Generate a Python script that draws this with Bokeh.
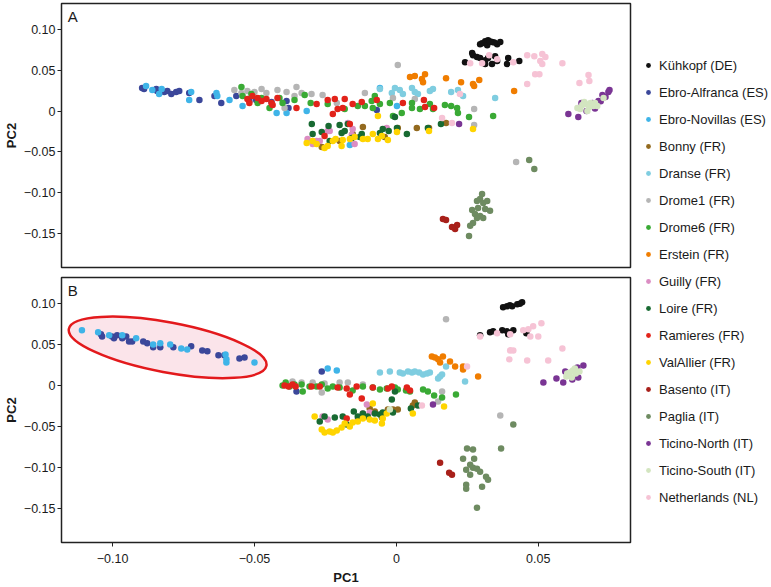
from bokeh.plotting import figure
from bokeh.models import (Range1d, FixedTicker, CustomJSTickFormatter, Legend,
                          LegendItem, Label)
from bokeh.layouts import row, column
from bokeh.embed import file_html
from bokeh.resources import INLINE

FONT = "Liberation Sans"

# ---------------- data ----------------
populations = ["Kühkopf (DE)", "Ebro-Alfranca (ES)", "Ebro-Novillas (ES)", "Bonny (FR)",
               "Dranse (FR)", "Drome1 (FR)", "Drome6 (FR)", "Erstein (FR)", "Guilly (FR)",
               "Loire (FR)", "Ramieres (FR)", "ValAllier (FR)", "Basento (IT)", "Paglia (IT)",
               "Ticino-North (IT)", "Ticino-South (IT)", "Netherlands (NL)"]
colors = ["#111111", "#3B479A", "#3FB4E8", "#936A1F", "#7FCDE0", "#B5B5B5", "#3AAA35",
          "#F07D00", "#DB8DC3", "#186A32", "#E2231A", "#FFD400", "#A8201A", "#6E8B61",
          "#7A3594", "#D3E5C0", "#F6C3D5"]

x_ticks = [-0.10, -0.05, 0.0, 0.05]
y_ticks = [-0.15, -0.10, -0.05, 0.0, 0.05, 0.10]
x_limits = (-0.118, 0.0825)
y_limits = (-0.192, 0.132)

# Panel A (PC1, PC2)
kuhkopf_a = [(0.0302, 0.0833), (0.0313, 0.0858), (0.0323, 0.0870), (0.0337, 0.0846), (0.0355, 0.0821),
             (0.0366, 0.0846), (0.0320, 0.0809), (0.0345, 0.0840), (0.0295, 0.0820), (0.0330, 0.0855),
             (0.0267, 0.0711), (0.0270, 0.0686), (0.0284, 0.0662), (0.0295, 0.0650), (0.0313, 0.0625),
             (0.0323, 0.0650), (0.0337, 0.0576), (0.0348, 0.0674), (0.0355, 0.0613), (0.0390, 0.0576),
             (0.0394, 0.0650), (0.0433, 0.0613), (0.0242, 0.0600), (0.0313, 0.0576)]
ebro_alfranca_a = [(-0.0896, 0.0282), (-0.0889, 0.0270), (-0.0846, 0.0270), (-0.0843, 0.0245),
                   (-0.0818, 0.0233), (-0.0807, 0.0245), (-0.0793, 0.0208), (-0.0776, 0.0233),
                   (-0.0765, 0.0245), (-0.0730, 0.0221), (-0.0694, 0.0135), (-0.0641, 0.0184),
                   (-0.0617, 0.0098), (-0.0564, 0.0184), (-0.0518, 0.0123), (-0.0494, 0.0135),
                   (-0.0440, 0.0110), (-0.0387, 0.0123), (-0.0380, 0.0037), (-0.0069, 0.0012)]
ebro_novillas_a = [(-0.0882, 0.0306), (-0.0860, 0.0257), (-0.0836, 0.0208), (-0.0827, 0.0270),
                   (-0.0730, 0.0135), (-0.0723, 0.0233), (-0.0634, 0.0221), (-0.0631, 0.0184),
                   (-0.0588, 0.0135), (-0.0542, 0.0061), (-0.0422, -0.0025), (-0.0387, -0.0025),
                   (-0.0316, 0.0000), (-0.0164, -0.0417), (-0.0058, 0.0282), (0.0002, 0.0061)]
bonny_a = [(-0.0263, -0.0441), (-0.0200, -0.0368), (-0.0154, -0.0282), (-0.0118, -0.0196),
           (-0.0041, -0.0319), (0.0005, -0.0208), (0.0072, -0.0208), (0.0115, -0.0208),
           (0.0175, -0.0147)]
dranse_a = [(-0.0058, 0.0270), (-0.0016, 0.0221), (-0.0005, 0.0282), (0.0012, 0.0257),
            (0.0023, 0.0208), (0.0055, 0.0282), (0.0065, 0.0233), (0.0076, 0.0208),
            (0.0118, 0.0245), (0.0129, 0.0270), (0.0193, 0.0233), (0.0217, 0.0257),
            (0.0235, 0.0184), (0.0348, 0.0159)]
drome1_a = [(-0.0571, 0.0257), (-0.0546, 0.0221), (-0.0525, 0.0245), (-0.0500, 0.0233),
            (-0.0475, 0.0270), (-0.0458, 0.0221), (-0.0419, 0.0257), (-0.0387, 0.0233),
            (-0.0359, 0.0184), (-0.0352, 0.0294), (-0.0334, 0.0221), (-0.0299, 0.0208),
            (-0.0260, 0.0196), (-0.0210, 0.0098), (-0.0394, 0.0037), (-0.0111, 0.0221),
            (0.0005, 0.0564), (-0.0012, 0.0159), (0.0065, 0.0147), (0.0274, 0.0025),
            (0.0274, -0.0172), (0.0422, -0.0625)]
drome6_a = [(-0.0546, 0.0294), (-0.0542, 0.0184), (-0.0511, 0.0208), (-0.0489, 0.0098),
            (-0.0475, 0.0159), (-0.0447, 0.0037), (-0.0412, 0.0159), (-0.0401, 0.0098),
            (-0.0359, 0.0135), (-0.0323, 0.0196), (-0.0302, 0.0098), (-0.0242, 0.0086),
            (-0.0182, 0.0025), (-0.0136, 0.0061), (-0.0111, 0.0061), (-0.0087, 0.0123),
            (-0.0083, 0.0037), (-0.0058, 0.0086), (-0.0076, 0.0184), (-0.0023, 0.0098),
            (-0.0012, -0.0061), (0.0019, -0.0025), (0.0055, 0.0098), (0.0055, 0.0037),
            (0.0083, 0.0025), (0.0118, 0.0086), (0.0129, 0.0025), (0.0171, 0.0074),
            (0.0193, 0.0061), (0.0214, 0.0037), (0.0217, -0.0025), (0.0256, -0.0074),
            (0.0341, -0.0061)]
erstein_a = [(0.0048, 0.0417), (0.0065, 0.0429), (0.0090, 0.0392), (0.0094, 0.0355),
             (0.0101, 0.0453), (0.0175, 0.0404), (0.0228, 0.0355), (0.0270, 0.0331),
             (0.0274, 0.0306), (0.0292, 0.0380), (0.0415, 0.0245)]
guilly_a = [(-0.0313, -0.0343), (-0.0295, -0.0404), (-0.0281, -0.0368), (-0.0270, -0.0368),
            (-0.0242, -0.0245), (-0.0235, -0.0245), (-0.0171, -0.0147), (-0.0154, -0.0221),
            (-0.0157, -0.0294), (-0.0147, -0.0404), (-0.0034, -0.0208)]
loire_a = [(-0.0298, -0.0159), (-0.0295, -0.0282), (-0.0263, -0.0257), (-0.0239, -0.0184),
           (-0.0235, -0.0368), (-0.0200, -0.0172), (-0.0193, -0.0270), (-0.0182, -0.0245),
           (-0.0171, -0.0159), (-0.0157, -0.0331), (-0.0129, -0.0319), (-0.0122, -0.0282),
           (-0.0058, -0.0270), (-0.0048, -0.0221), (-0.0027, -0.0245), (-0.0005, -0.0074),
           (0.0002, -0.0208), (0.0037, -0.0282), (0.0111, -0.0208), (0.0157, -0.0159)]
ramieres_a = [(-0.0525, 0.0147), (-0.0518, 0.0098), (-0.0507, 0.0184), (-0.0489, 0.0159),
              (-0.0475, 0.0123), (-0.0458, 0.0147), (-0.0440, 0.0098), (-0.0436, 0.0074),
              (-0.0419, 0.0159), (-0.0352, 0.0037), (-0.0281, 0.0086), (-0.0242, 0.0135),
              (-0.0224, -0.0037), (-0.0217, 0.0147), (-0.0207, 0.0025), (-0.0189, 0.0037),
              (-0.0182, 0.0147), (-0.0154, 0.0086), (-0.0122, 0.0110), (-0.0069, 0.0135),
              (-0.0164, -0.0159), (-0.0253, -0.0306), (0.0023, 0.0098), (0.0097, 0.0135),
              (0.0101, 0.0049), (0.0133, 0.0037)]
valallier_a = [(-0.0316, -0.0392), (-0.0295, -0.0368), (-0.0281, -0.0404), (-0.0253, -0.0453),
               (-0.0242, -0.0429), (-0.0224, -0.0368), (-0.0214, -0.0343), (-0.0193, -0.0429),
               (-0.0189, -0.0355), (-0.0164, -0.0343), (-0.0147, -0.0319), (-0.0118, -0.0343),
               (-0.0101, -0.0343), (-0.0083, -0.0282), (-0.0065, -0.0343), (-0.0051, -0.0306),
               (-0.0030, -0.0355), (0.0002, -0.0257), (-0.0065, -0.0061), (0.0115, -0.0245),
               (0.0270, -0.0221)]
basento_a = [(0.0164, -0.1324), (0.0175, -0.1336), (0.0207, -0.1446), (0.0214, -0.1397),
             (0.0196, -0.1422)]
paglia_a = [(0.0302, -0.1017), (0.0295, -0.1078), (0.0284, -0.1103), (0.0306, -0.1127),
            (0.0320, -0.1103), (0.0288, -0.1189), (0.0313, -0.1201), (0.0330, -0.1225),
            (0.0267, -0.1213), (0.0277, -0.1262), (0.0295, -0.1287), (0.0284, -0.1311),
            (0.0306, -0.1311), (0.0270, -0.1373), (0.0260, -0.1409), (0.0256, -0.1532),
            (0.0468, -0.0600), (0.0486, -0.0711)]
ticino_north_a = [(0.0606, -0.0037), (0.0641, -0.0074), (0.0652, 0.0098), (0.0712, 0.0123),
                  (0.0726, 0.0196), (0.0737, 0.0172), (0.0747, 0.0233), (0.0751, 0.0257),
                  (0.0691, 0.0098), (0.0221, -0.0159), (0.0670, 0.0000), (0.0700, 0.0030),
                  (0.0720, 0.0120)]
ticino_south_a = [(0.0638, 0.0037), (0.0655, 0.0074), (0.0666, 0.0086), (0.0684, 0.0098),
                  (0.0694, 0.0061), (0.0673, 0.0000), (0.0708, 0.0061), (0.0730, 0.0159),
                  (0.0648, 0.0025), (0.0680, 0.0049), (0.0662, 0.0110), (0.0700, 0.0100)]
netherlands_a = [(0.0260, 0.0588), (0.0302, 0.0588), (0.0327, 0.0686), (0.0355, 0.0637),
                 (0.0412, 0.0600), (0.0461, 0.0686), (0.0486, 0.0674), (0.0514, 0.0699),
                 (0.0525, 0.0662), (0.0507, 0.0613), (0.0514, 0.0576), (0.0585, 0.0588),
                 (0.0489, 0.0453), (0.0504, 0.0453), (0.0461, 0.0331), (0.0645, 0.0343),
                 (0.0677, 0.0441), (0.0680, 0.0368), (0.0224, 0.0208), (0.0161, -0.0086),
                 (0.0196, -0.0147)]

# Panel B (PC1, PC2)
kuhkopf_b = [(0.0390, 0.0968), (0.0408, 0.0968), (0.0426, 0.0993), (0.0443, 0.1017),
             (0.0376, 0.0956), (0.0400, 0.0980), (0.0435, 0.1000), (0.0295, 0.0613),
             (0.0330, 0.0650), (0.0341, 0.0662), (0.0373, 0.0674), (0.0390, 0.0662),
             (0.0394, 0.0625), (0.0412, 0.0674), (0.0458, 0.0637)]
ebro_alfranca_b = [(-0.1041, 0.0625), (-0.1037, 0.0600), (-0.1002, 0.0600), (-0.0995, 0.0576),
                   (-0.0984, 0.0613), (-0.0966, 0.0576), (-0.0952, 0.0600), (-0.0942, 0.0539),
                   (-0.0931, 0.0539), (-0.0892, 0.0539), (-0.0878, 0.0515), (-0.0857, 0.0466),
                   (-0.0832, 0.0466), (-0.0786, 0.0466), (-0.0723, 0.0478), (-0.0684, 0.0429),
                   (-0.0666, 0.0417), (-0.0627, 0.0368), (-0.0606, 0.0368), (-0.0553, 0.0331),
                   (-0.0535, 0.0343), (-0.0263, 0.0172), (-0.0352, -0.0074)]
ebro_novillas_b = [(-0.1108, 0.0674), (-0.1051, 0.0650), (-0.1012, 0.0613), (-0.0966, 0.0613),
                   (-0.0917, 0.0576), (-0.0857, 0.0502), (-0.0832, 0.0515), (-0.0797, 0.0502),
                   (-0.0758, 0.0453), (-0.0737, 0.0441), (-0.0602, 0.0380), (-0.0599, 0.0319),
                   (-0.0599, 0.0282), (-0.0500, 0.0282), (-0.0242, 0.0208), (-0.0210, 0.0184)]
bonny_b = [(-0.0094, -0.0282), (-0.0076, -0.0319), (-0.0030, -0.0294), (-0.0012, -0.0294),
           (0.0005, -0.0294), (0.0058, -0.0245), (0.0065, -0.0208), (-0.0051, -0.0392)]
dranse_b = [(-0.0058, 0.0159), (-0.0023, 0.0172), (0.0012, 0.0159), (0.0023, 0.0147),
            (0.0041, 0.0172), (0.0055, 0.0159), (0.0065, 0.0172), (0.0080, 0.0159),
            (0.0094, 0.0135), (0.0108, 0.0147), (0.0118, 0.0159), (0.0154, 0.0110),
            (0.0161, 0.0135), (0.0147, 0.0086), (0.0175, 0.0233), (0.0242, 0.0049)]
drome1_b = [(-0.0366, 0.0049), (-0.0334, 0.0037), (-0.0295, 0.0037), (-0.0253, 0.0025),
            (-0.0200, 0.0037), (-0.0171, 0.0037), (-0.0118, 0.0012), (-0.0263, -0.0086),
            (-0.0005, -0.0049), (0.0161, -0.0074), (0.0147, -0.0196), (0.0175, 0.0809),
            (0.0366, -0.0368)]
drome6_b = [(-0.0401, 0.0000), (-0.0390, 0.0037), (-0.0376, -0.0012), (-0.0359, 0.0012),
            (-0.0334, 0.0012), (-0.0330, -0.0074), (-0.0306, -0.0012), (-0.0281, -0.0012),
            (-0.0263, 0.0012), (-0.0242, -0.0037), (-0.0224, -0.0012), (-0.0200, -0.0025),
            (-0.0154, -0.0061), (-0.0118, -0.0012), (-0.0083, -0.0025), (-0.0058, -0.0049),
            (-0.0034, -0.0037), (-0.0005, -0.0025), (0.0005, -0.0049), (0.0034, -0.0061),
            (0.0048, -0.0074), (0.0094, -0.0049), (0.0111, -0.0074), (0.0133, -0.0123),
            (0.0161, -0.0147), (0.0210, -0.0110)]
erstein_b = [(0.0125, 0.0355), (0.0136, 0.0343), (0.0147, 0.0319), (0.0164, 0.0355),
             (0.0154, 0.0282), (0.0189, 0.0294), (0.0207, 0.0233), (0.0235, 0.0233),
             (0.0235, 0.0196), (0.0288, 0.0110)]
guilly_b = [(-0.0260, -0.0380), (-0.0242, -0.0417), (-0.0136, -0.0417), (-0.0118, -0.0343),
            (-0.0104, -0.0233), (-0.0094, -0.0331)]
loire_b = [(-0.0270, -0.0441), (-0.0253, -0.0380), (-0.0217, -0.0392), (-0.0189, -0.0380),
           (-0.0150, -0.0319), (-0.0136, -0.0380), (-0.0118, -0.0343), (-0.0101, -0.0380),
           (-0.0076, -0.0343), (-0.0058, -0.0355), (-0.0016, -0.0172), (-0.0175, -0.0478),
           (-0.0048, -0.0331), (-0.0012, -0.0331), (0.0051, -0.0282), (0.0076, -0.0245),
           (-0.0005, -0.0074)]
ramieres_b = [(-0.0394, 0.0000), (-0.0380, -0.0012), (-0.0366, 0.0012), (-0.0355, -0.0012),
              (-0.0299, -0.0012), (-0.0270, -0.0012), (-0.0207, -0.0025), (-0.0175, -0.0037),
              (-0.0164, -0.0110), (-0.0140, -0.0012), (-0.0122, -0.0159), (-0.0083, -0.0025),
              (-0.0030, -0.0037), (-0.0016, -0.0012), (0.0037, -0.0025), (0.0048, -0.0061),
              (-0.0175, -0.0404)]
valallier_b = [(-0.0288, -0.0380), (-0.0263, -0.0539), (-0.0253, -0.0576), (-0.0235, -0.0564),
               (-0.0224, -0.0576), (-0.0210, -0.0551), (-0.0193, -0.0515), (-0.0182, -0.0466),
               (-0.0164, -0.0502), (-0.0154, -0.0453), (-0.0136, -0.0441), (-0.0118, -0.0404),
               (-0.0094, -0.0417), (-0.0076, -0.0429), (-0.0051, -0.0466), (-0.0048, -0.0404),
               (-0.0083, -0.0221), (-0.0034, -0.0343), (0.0058, -0.0343), (0.0168, -0.0257)]
basento_b = [(0.0154, -0.0944), (0.0186, -0.1066), (0.0196, -0.1091)]
paglia_b = [(0.0249, -0.0772), (0.0270, -0.0784), (0.0235, -0.0895), (0.0274, -0.0895),
            (0.0260, -0.0968), (0.0246, -0.1029), (0.0270, -0.1005), (0.0284, -0.1017),
            (0.0295, -0.1054), (0.0260, -0.1091), (0.0316, -0.1115), (0.0323, -0.1152),
            (0.0246, -0.1213), (0.0246, -0.1262), (0.0302, -0.1238), (0.0284, -0.1495),
            (0.0369, -0.0772), (0.0412, -0.0478)]
ticino_north_b = [(0.0518, 0.0037), (0.0564, 0.0086), (0.0588, 0.0037), (0.0620, 0.0074),
                  (0.0641, 0.0098), (0.0595, 0.0172), (0.0638, 0.0221), (0.0659, 0.0245),
                  (0.0129, -0.0233)]
ticino_south_b = [(0.0599, 0.0110), (0.0611, 0.0159), (0.0622, 0.0184), (0.0632, 0.0147),
                  (0.0618, 0.0098), (0.0645, 0.0172), (0.0602, 0.0147), (0.0629, 0.0208),
                  (-0.0023, -0.0294)]
netherlands_b = [(0.0295, 0.0600), (0.0355, 0.0637), (0.0401, 0.0625), (0.0447, 0.0674),
                 (0.0465, 0.0686), (0.0472, 0.0600), (0.0500, 0.0600), (0.0511, 0.0760),
                 (0.0401, 0.0429), (0.0412, 0.0429), (0.0398, 0.0319), (0.0461, 0.0306),
                 (0.0535, 0.0306), (0.0585, 0.0453), (0.0249, 0.0233), (0.0090, -0.0245),
                 (0.0482, 0.0723)]

panel_a = [kuhkopf_a, ebro_alfranca_a, ebro_novillas_a, bonny_a, dranse_a, drome1_a, drome6_a,
           erstein_a, guilly_a, loire_a, ramieres_a, valallier_a, basento_a, paglia_a,
           ticino_north_a, ticino_south_a, netherlands_a]
panel_b = [kuhkopf_b, ebro_alfranca_b, ebro_novillas_b, bonny_b, dranse_b, drome1_b, drome6_b,
           erstein_b, guilly_b, loire_b, ramieres_b, valallier_b, basento_b, paglia_b,
           ticino_north_b, ticino_south_b, netherlands_b]

# highlighted Ebro group in panel B (centre in data units)
highlight_center = (-0.0806, 0.0466)

# ---------------- styling helpers ----------------
fmt = CustomJSTickFormatter(code="""
if (Math.abs(tick) < 1e-9) { return "0"; }
var s = Math.abs(tick).toFixed(2);
return (tick < 0 ? "\\u2212" : "") + s;
""")

W_MAIN = 632
W_LEG = 771 - W_MAIN
H_A = 272
H_B = 315


def make_panel(height, border_top, border_bottom, with_x_axis):
    p = figure(width=W_MAIN, height=height, output_backend="svg", toolbar_location=None,
               x_range=Range1d(*x_limits), y_range=Range1d(*y_limits),
               x_axis_location="below" if with_x_axis else None,
               min_border_left=10, min_border_right=2,
               min_border_top=border_top, min_border_bottom=border_bottom)
    p.xgrid.visible = False
    p.ygrid.visible = False
    p.outline_line_color = "#222222"
    p.outline_line_width = 1.5
    p.background_fill_color = "white"
    p.border_fill_color = "white"
    axes = list(p.yaxis) + (list(p.xaxis) if with_x_axis else [])
    for ax in axes:
        ax.formatter = fmt
        ax.major_label_text_font = FONT
        ax.major_label_text_font_size = "12.5px"
        ax.major_label_text_color = "#1a1a1a"
        ax.axis_label_text_font = FONT
        ax.axis_label_text_font_size = "13px"
        ax.axis_label_text_font_style = "bold"
        ax.axis_label_text_color = "#1a1a1a"
        ax.minor_tick_line_color = None
        ax.major_tick_in = 0
        ax.major_tick_out = 4
        ax.major_tick_line_color = "#222222"
        ax.axis_line_color = "#222222"
        ax.major_label_standoff = 2
        ax.axis_label_standoff = 2
    p.yaxis.ticker = FixedTicker(ticks=y_ticks)
    p.yaxis.axis_label = "PC2"
    if with_x_axis:
        p.xaxis.ticker = FixedTicker(ticks=x_ticks)
        p.xaxis.axis_label = "PC1"
        p.xaxis.major_label_standoff = 7
        p.xaxis.axis_label_standoff = 4
    return p


def draw_points(p, panel):
    for pts, col in zip(panel, colors):
        xs = [pt[0] for pt in pts]
        ys = [pt[1] for pt in pts]
        p.scatter(xs, ys, size=6.5, fill_color=col, line_color=None)


def panel_letter(p, letter):
    p.add_layout(Label(x=x_limits[0] + 0.0022, y=y_limits[1] - 0.006, text=letter,
                       text_font=FONT, text_font_size="15px", text_color="#1a1a1a",
                       text_baseline="top", text_align="left"))


pA = make_panel(H_A, 3, 5, False)
draw_points(pA, panel_a)
panel_letter(pA, "A")

pB = make_panel(H_B, 5, 44, True)
pB.ellipse(x=[highlight_center[0]], y=[highlight_center[1]], width=201, height=50,
           angle=-0.185, width_units="screen", height_units="screen",
           fill_color="#FBE4EA", line_color="#E3191C", line_width=2.5)
draw_points(pB, panel_b)
panel_letter(pB, "B")

# ---------------- legend panel ----------------
H_L = H_A + H_B
pL = figure(width=W_LEG, height=H_L, output_backend="svg", toolbar_location=None,
            x_range=Range1d(0, 1), y_range=Range1d(0, 1),
            min_border_left=0, min_border_right=0, min_border_top=0, min_border_bottom=0)
pL.axis.visible = False
pL.xgrid.visible = False
pL.ygrid.visible = False
pL.outline_line_color = None
items = []
for name, col in zip(populations, colors):
    r = pL.scatter([float("nan")], [float("nan")], size=7, fill_color=col, line_color=None)
    items.append(LegendItem(label=name, renderers=[r]))
legend_top = 55
legend_h = 17 * 20 + 16 * 7
legend = Legend(items=items, location=(10, H_L - legend_top - legend_h), orientation="vertical",
                glyph_width=12, glyph_height=20, label_height=20, spacing=7,
                label_standoff=5, padding=0, margin=0, border_line_color=None,
                background_fill_alpha=0,
                label_text_font=FONT, label_text_font_size="13px",
                label_text_color="#1a1a1a")
pL.add_layout(legend)

layout = row(column(pA, pB), pL)
open("out.html", "w").write(file_html(layout, INLINE))
